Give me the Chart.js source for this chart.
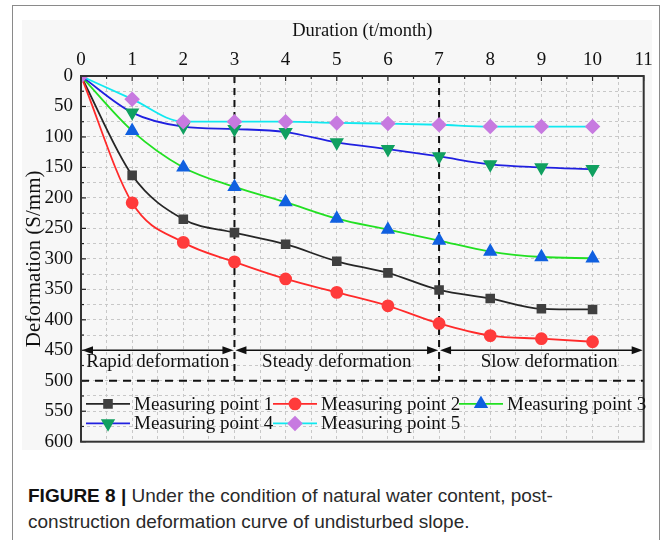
<!DOCTYPE html>
<html>
<head>
<meta charset="utf-8">
<script src="https://cdn.jsdelivr.net/npm/chart.js@4"></script>
<style>
  html, body { margin: 0; padding: 0; background: #fff; }
  body { width: 664px; height: 540px; position: relative; overflow: hidden; }
  #frame { position: absolute; left: 12px; top: 5px; width: 648px; height: 560px;
           border: 1.5px solid #8a8a8a; box-sizing: border-box; }
  #wrap { position: absolute; left: 22px; top: 20px; width: 630px; height: 430px; background: #f7f7f7; }
  #grafico { display: block; }
  #caption { position: absolute; left: 28px; top: 483px; width: 630px;
             font-family: "Liberation Sans", Arial, sans-serif; font-size: 19px; line-height: 26px; color: #2a2a2a; }
  #caption b { font-weight: bold; color: #111; }
</style>
</head>
<body>
<div id="frame"></div>
<div id="wrap"><canvas id="grafico" width="630" height="430"></canvas></div>
<div id="caption"><b>FIGURE 8 |</b> Under the condition of natural water content, post-<br>construction deformation curve of undisturbed slope.</div>
<script>
var months = [0, 1, 2, 3, 4, 5, 6, 7, 8, 9, 10];
var point1 = [0, 163, 235, 257, 276, 304, 323, 351, 365, 382, 383];
var point2 = [0, 208, 273, 305, 333, 355, 377, 406, 426, 431, 436];
var point3 = [0, 90, 150, 182, 207, 234, 252, 270, 288, 297, 299];
var point4 = [0, 60, 83, 87, 92, 109, 120, 132, 145, 150, 153];
var point5 = [0, 38, 75, 75, 75, 77, 78, 80, 83, 83, 83];
var seriesNames = ['Measuring point 1', 'Measuring point 2', 'Measuring point 3', 'Measuring point 4', 'Measuring point 5'];
var stageBounds = [0, 3, 7, 11];
var stageNames = ['Rapid deformation', 'Steady deformation', 'Slow deformation'];
var stageTextX = [1.5, 5, 9.15];
var arrowY = 450;
var stageTextY = 470;
var limitY = 500;

var serif = '"Liberation Serif", "Times New Roman", serif';

function pts(vals) {
  return vals.map(function (v, i) { return { x: months[i], y: v }; });
}

var styles = [
  { line: '#262626', fill: '#404040', shape: 'rect', r: 5.5, rot: 0 },
  { line: '#ff2a2a', fill: '#ff3b3b', shape: 'circle', r: 5.5, rot: 0 },
  { line: '#22e022', fill: '#1060e0', shape: 'triangle', r: 6.5, rot: 0 },
  { line: '#2020e0', fill: '#10a060', shape: 'triangle', r: 6.5, rot: 180 },
  { line: '#10e8f0', fill: '#c77ae0', shape: 'rectRot', r: 6.5, rot: 0 }
];
var allSeries = [point1, point2, point3, point4, point5];

var datasets = allSeries.map(function (vals, i) {
  var s = styles[i];
  return {
    label: seriesNames[i],
    data: pts(vals),
    borderColor: s.line,
    borderWidth: 1.8,
    backgroundColor: s.fill,
    pointBackgroundColor: s.fill,
    pointBorderColor: s.fill,
    pointStyle: s.shape,
    pointRadius: s.r,
    pointRotation: s.rot,
    cubicInterpolationMode: 'monotone',
    fill: false,
    order: 4 - i
  };
});

function arrowHead(ctx, x, y, dir) {
  ctx.beginPath();
  ctx.moveTo(x, y);
  ctx.lineTo(x - dir * 11, y - 4);
  ctx.lineTo(x - dir * 11, y + 4);
  ctx.closePath();
  ctx.fill();
}

var extras = {
  id: 'extras',
  beforeDatasetsDraw: function (chart) {
    var ctx = chart.ctx, xs = chart.scales.x, ys = chart.scales.y, a = chart.chartArea;
    ctx.save();
    ctx.strokeStyle = '#111';
    ctx.fillStyle = '#111';
    // dashed limit line
    ctx.lineWidth = 2;
    ctx.setLineDash([8, 6]);
    ctx.beginPath();
    ctx.moveTo(a.left, ys.getPixelForValue(limitY));
    ctx.lineTo(a.right, ys.getPixelForValue(limitY));
    ctx.stroke();
    // stage separators
    ctx.setLineDash([7, 5]);
    [stageBounds[1], stageBounds[2]].forEach(function (b) {
      var px = xs.getPixelForValue(b);
      ctx.beginPath();
      ctx.moveTo(px, a.top);
      ctx.lineTo(px, ys.getPixelForValue(limitY));
      ctx.stroke();
    });
    ctx.setLineDash([]);
    // arrows
    ctx.lineWidth = 1.5;
    var ay = ys.getPixelForValue(arrowY);
    for (var i = 0; i < 3; i++) {
      var x0 = xs.getPixelForValue(stageBounds[i]) + 1;
      var x1 = xs.getPixelForValue(stageBounds[i + 1]) - 1;
      ctx.beginPath();
      ctx.moveTo(x0 + 4, ay);
      ctx.lineTo(x1 - 4, ay);
      ctx.stroke();
      arrowHead(ctx, x0, ay, -1);
      arrowHead(ctx, x1, ay, 1);
    }
    // stage names
    ctx.font = '19px ' + serif;
    ctx.textAlign = 'center';
    ctx.textBaseline = 'middle';
    for (var j = 0; j < 3; j++) {
      ctx.fillText(stageNames[j], xs.getPixelForValue(stageTextX[j]), ys.getPixelForValue(stageTextY));
    }
    ctx.restore();
  },
  afterDraw: function (chart) {
    var ctx = chart.ctx, a = chart.chartArea, xs = chart.scales.x, ys = chart.scales.y;
    ctx.save();
    // inner ticks
    ctx.strokeStyle = '#222';
    ctx.lineWidth = 1.2;
    for (var t = 0; t <= 11; t += 0.5) {
      var px = xs.getPixelForValue(t);
      ctx.beginPath();
      ctx.moveTo(px, a.top);
      ctx.lineTo(px, a.top + (t % 1 === 0 ? 5 : 3));
      ctx.stroke();
    }
    for (var v = 0; v <= 600; v += 25) {
      var py = ys.getPixelForValue(v);
      ctx.beginPath();
      ctx.moveTo(a.left, py);
      ctx.lineTo(a.left + (v % 50 === 0 ? 5 : 3), py);
      ctx.stroke();
    }
    // plot box
    ctx.strokeStyle = '#333';
    ctx.lineWidth = 2;
    ctx.strokeRect(a.left, a.top, a.right - a.left, a.bottom - a.top);
    // legend
    var rows = [[0, 1, 2], [3, 4]];
    var colX = [a.left + 5, a.left + 192, a.left + 378];
    var rowY = [ys.getPixelForValue(538), ys.getPixelForValue(570)];
    ctx.font = '19px ' + serif;
    ctx.textAlign = 'left';
    ctx.textBaseline = 'middle';
    rows.forEach(function (row, ri) {
      row.forEach(function (di, ci) {
        var s = styles[di];
        var x = colX[ci], y = rowY[ri];
        ctx.strokeStyle = s.line;
        ctx.lineWidth = 1.8;
        ctx.beginPath();
        ctx.moveTo(x, y);
        ctx.lineTo(x + 44, y);
        ctx.stroke();
        ctx.fillStyle = s.fill;
        ctx.strokeStyle = s.fill;
        Chart.helpers.drawPoint(ctx, {
          pointStyle: s.shape, radius: s.r, rotation: s.rot, borderWidth: 1
        }, x + 22, y);
        ctx.fillStyle = '#111';
        ctx.fillText(seriesNames[di], x + 48, y + 1);
      });
    });
    ctx.restore();
  }
};

var ctx = document.getElementById('grafico').getContext('2d');
var chart = new Chart(ctx, {
  type: 'line',
  data: { datasets: datasets },
  plugins: [extras],
  options: {
    responsive: false,
    animation: false,
    devicePixelRatio: 1,
    layout: { padding: { top: 0, left: 0, right: 8, bottom: 8 } },
    plugins: { legend: { display: false }, tooltip: { enabled: false } },
    scales: {
      x: {
        type: 'linear',
        position: 'top',
        min: 0,
        max: 11,
        ticks: {
          stepSize: 0.5,
          color: '#111',
          font: { family: serif, size: 19 },
          padding: 5,
          maxRotation: 0,
          autoSkip: false,
          callback: function (v) { return v % 1 === 0 ? v : ''; }
        },
        grid: { color: '#c8c8c8', lineWidth: 1, drawTicks: false },
        border: { display: false, dash: [3, 3] },
        title: { display: true, text: 'Duration (t/month)', color: '#111',
                 font: { family: serif, size: 18.5 }, padding: { top: 0, bottom: 2 } },
        afterFit: function (s) { s.height = 56; s.paddingLeft = 0; s.paddingRight = 0; }
      },
      y: {
        type: 'linear',
        reverse: true,
        min: 0,
        max: 600,
        ticks: {
          stepSize: 25,
          color: '#111',
          font: { family: serif, size: 19 },
          padding: 8,
          autoSkip: false,
          callback: function (v) { return v % 50 === 0 ? v : ''; }
        },
        grid: { color: '#c8c8c8', lineWidth: 1, drawTicks: false },
        border: { display: false, dash: [3, 3] },
        title: { display: true, text: 'Deformation (S/mm)', color: '#111',
                 font: { family: serif, size: 21 }, padding: { top: 0, bottom: 0 } },
        afterFit: function (s) { s.width = 59; s.paddingTop = 0; s.paddingBottom = 0; }
      }
    }
  }
});
</script>
</body>
</html>
